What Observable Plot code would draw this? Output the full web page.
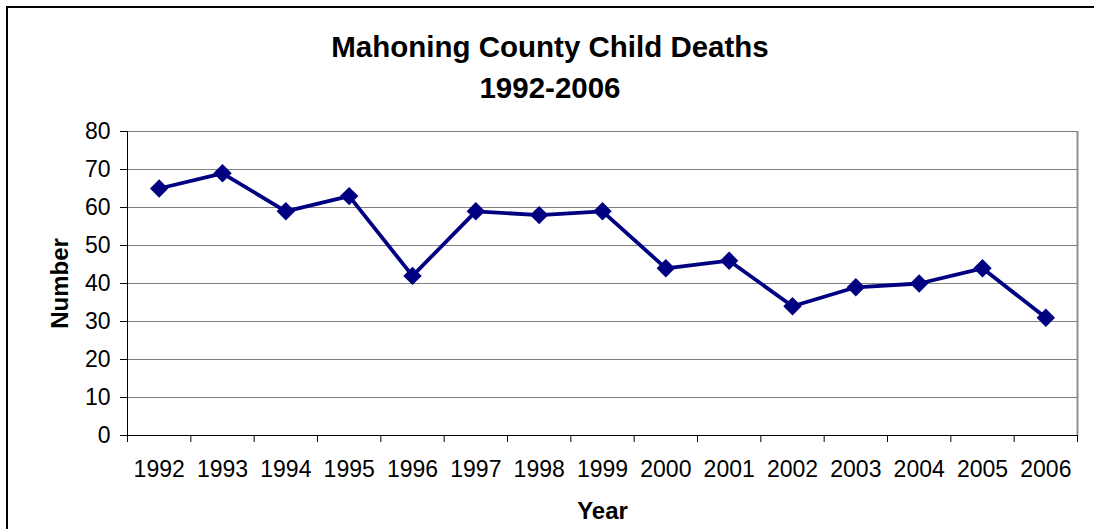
<!DOCTYPE html>
<html>
<head>
<meta charset="utf-8">
<script src="https://cdn.jsdelivr.net/npm/d3@7"></script>
<script src="https://cdn.jsdelivr.net/npm/@observablehq/plot@0.6"></script>
<style>
  html, body { margin: 0; padding: 0; background: #fff; }
  #wrap { position: relative; width: 1094px; height: 529px; overflow: hidden; font-family: "Liberation Sans", Arial, sans-serif; }
  #border { position: absolute; left: 6px; top: 6px; width: 2000px; height: 2000px; border-left: 2px solid #000; border-top: 2px solid #000; }
  #title { position: absolute; left: 0; top: 26px; width: 1100px; text-align: center; font-weight: bold; font-size: 29.5px; line-height: 41px; color: #000; }
  #chart { position: absolute; left: 0; top: 0; }
</style>
</head>
<body>
<div id="wrap">
  <div id="border"></div>
  <div id="chart"></div>
  <div id="title">Mahoning County Child Deaths<br>1992-2006</div>
</div>
<script>
const years = [1992, 1993, 1994, 1995, 1996, 1997, 1998, 1999, 2000, 2001, 2002, 2003, 2004, 2005, 2006];
const deaths = [65, 69, 59, 63, 42, 59, 58, 59, 44, 46, 34, 39, 40, 44, 31];
const yTicks = [0, 10, 20, 30, 40, 50, 60, 70, 80];
const yLabel = "Number";
const xLabel = "Year";

const data = years.map((y, i) => ({year: y, value: deaths[i]}));
const boundaries = [years[0] - 0.5, ...years.map(y => y + 0.5)];

const chart = Plot.plot({
  width: 1094,
  height: 529,
  marginLeft: 127,
  marginRight: 17,
  marginTop: 131,
  marginBottom: 94,
  style: {fontFamily: "'Liberation Sans', Arial, sans-serif", fontSize: "23px", color: "#000", background: "transparent", overflow: "visible"},
  x: {type: "linear", domain: [years[0] - 0.5, years[years.length - 1] + 0.5]},
  y: {domain: [0, 80]},
  marks: [
    Plot.gridY(yTicks, {stroke: "#808080", strokeOpacity: 1, strokeWidth: 1}),
    Plot.ruleX([years[years.length - 1] + 0.5], {stroke: "#909090", strokeWidth: 2}),
    Plot.ruleY([0], {stroke: "#000", strokeWidth: 1}),
    Plot.ruleX([years[0] - 0.5], {stroke: "#000", strokeWidth: 1, insetBottom: -7}),
    Plot.axisY({ticks: yTicks, tickSize: 7, tickPadding: 10, label: null, fontSize: 23, stroke: "#000"}),
    Plot.axisX({ticks: boundaries, tickSize: 7, tickFormat: () => "", label: null, stroke: "#000"}),
    Plot.axisX({ticks: years, tickSize: 0, tickPadding: 25, tickFormat: d => String(d), label: null, fontSize: 23}),
    Plot.line(data, {x: "year", y: "value", stroke: "#000080", strokeWidth: 3.8}),
    Plot.dot(data, {x: "year", y: "value", symbol: "diamond2", r: 8.3, fill: "#000080", stroke: "none"}),
    Plot.text([yLabel], {frameAnchor: "left", textAnchor: "middle", dx: -67, rotate: -90, fontWeight: "bold", fontSize: 24}),
    Plot.text([xLabel], {frameAnchor: "bottom", lineAnchor: "middle", dy: 76, fontWeight: "bold", fontSize: 24})
  ]
});
document.getElementById("chart").appendChild(chart);
</script>
</body>
</html>
